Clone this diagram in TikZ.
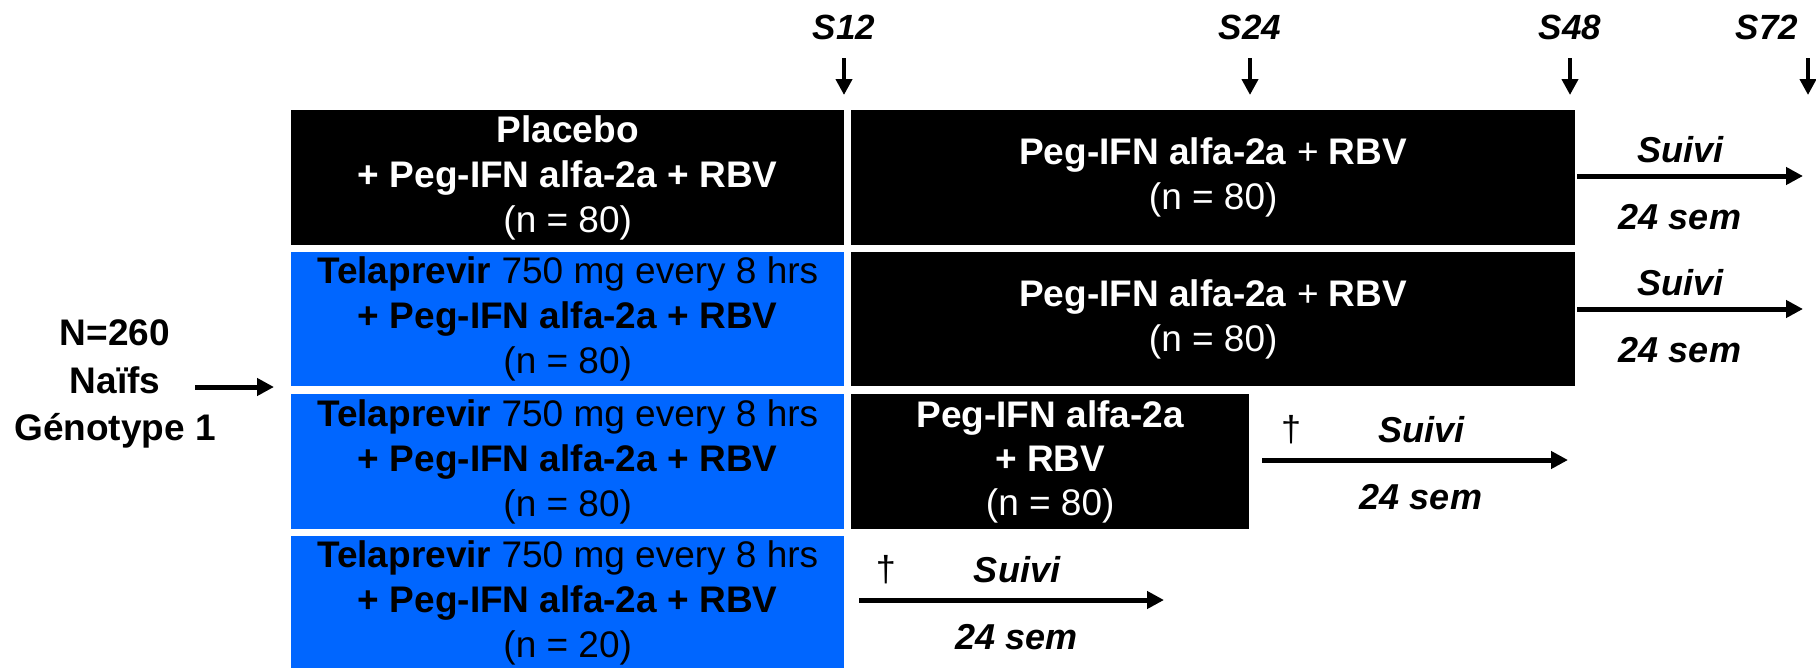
\documentclass[tikz,border=0pt]{standalone}
\usepackage{fontspec}
\setmainfont{Liberation Sans}
\usetikzlibrary{arrows.meta}
\definecolor{tblue}{HTML}{0066FF}
\begin{document}
\begin{tikzpicture}[x=1pt,y=-1pt,
  blk/.style={rectangle, fill=black, text=white, inner sep=0pt, anchor=north west, align=center, font=\fontsize{37}{45}\selectfont},
  blu/.style={blk, fill=tblue, text=black},
  lbl/.style={font=\fontsize{36}{40}\selectfont\bfseries\itshape, inner sep=0pt},
  tl/.style={font=\fontsize{35}{40}\selectfont\bfseries\itshape, inner sep=0pt},
  dg/.style={font=\fontsize{36}{40}\selectfont, inner sep=0pt},
  fw/.style={-{Triangle[length=17pt,width=17pt]}, line width=5pt},
  dn/.style={-{Triangle[length=16pt,width=16pt]}, line width=4pt},
]
\useasboundingbox (0,0) rectangle (1816,667);

% top time markers
\node[tl] (S12) at (844,27) {S12};
\node[tl] (S24) at (1250,27) {S24};
\node[tl] (S48) at (1570,27) {S48};
\node[tl] (S72) at (1767,27) {S72};
\coordinate (t12) at (844,58);  \coordinate (b12) at (844,95);
\coordinate (t24) at (1250,58); \coordinate (b24) at (1250,95);
\coordinate (t48) at (1570,58); \coordinate (b48) at (1570,95);
\coordinate (t72) at (1808,58); \coordinate (b72) at (1808,95);
\draw[dn] (t12) -- (b12);
\draw[dn] (t24) -- (b24);
\draw[dn] (t48) -- (b48);
\draw[dn] (t72) -- (b72);

% population
\node[font=\fontsize{37}{47.5}\selectfont\bfseries, align=center, inner sep=0pt] (pop) at (115,384) {N=260\\Naïfs\\Génotype 1};
\coordinate (pa) at (195,387);
\coordinate (pb) at (274,387);
\draw[fw] (pa) -- (pb);

% row 1
\node[blk, minimum width=553pt, minimum height=135pt] (r1c1) at (291,110)
  {\textbf{Placebo}\\\textbf{+ Peg-IFN alfa-2a + RBV}\\(n = 80)};
\node[blk, minimum width=724pt, minimum height=135pt] (r1c2) at (851,110)
  {\textbf{Peg-IFN alfa-2a} + \textbf{RBV}\\(n = 80)};
% row 2
\node[blu, minimum width=553pt, minimum height=134pt] (r2c1) at (291,252)
  {\textbf{Telaprevir} 750 mg every 8 hrs\\\textbf{+ Peg-IFN alfa-2a + RBV}\\(n = 80)};
\node[blk, minimum width=724pt, minimum height=134pt] (r2c2) at (851,252)
  {\textbf{Peg-IFN alfa-2a} + \textbf{RBV}\\(n = 80)};
% row 3
\node[blu, minimum width=553pt, minimum height=135pt] (r3c1) at (291,394)
  {\textbf{Telaprevir} 750 mg every 8 hrs\\\textbf{+ Peg-IFN alfa-2a + RBV}\\(n = 80)};
\node[blk, minimum width=398pt, minimum height=135pt, font=\fontsize{37}{44}\selectfont] (r3c2) at (851,394)
  {\textbf{Peg-IFN alfa-2a}\\\textbf{+ RBV}\\(n = 80)};
% row 4
\node[blu, minimum width=553pt, minimum height=134pt] (r4c1) at (291,536)
  {\textbf{Telaprevir} 750 mg every 8 hrs\\\textbf{+ Peg-IFN alfa-2a + RBV}\\(n = 20)};

% follow-up arrows
\coordinate (f1s) at (1577,176); \coordinate (f1e) at (1803,176);
\coordinate (f2s) at (1577,309); \coordinate (f2e) at (1803,309);
\coordinate (f3s) at (1262,460); \coordinate (f3e) at (1568,460);
\coordinate (f4s) at (859,600);  \coordinate (f4e) at (1164,600);
\draw[fw] (f1s) -- (f1e);
\draw[fw] (f2s) -- (f2e);
\draw[fw] (f3s) -- (f3e);
\draw[fw] (f4s) -- (f4e);

\node[lbl] (su1) at (1680,150) {Suivi};
\node[lbl] (sm1) at (1680,217) {24 sem};
\node[lbl] (su2) at (1680,283) {Suivi};
\node[lbl] (sm2) at (1680,350) {24 sem};
\node[lbl] (su3) at (1421,430) {Suivi};
\node[lbl] (sm3) at (1421,497) {24 sem};
\node[lbl] (su4) at (1017,570) {Suivi};
\node[lbl] (sm4) at (1017,637) {24 sem};
\node[dg] (dg3) at (1291,430) {†};
\node[dg] (dg4) at (886,570) {†};
\end{tikzpicture}
\end{document}
